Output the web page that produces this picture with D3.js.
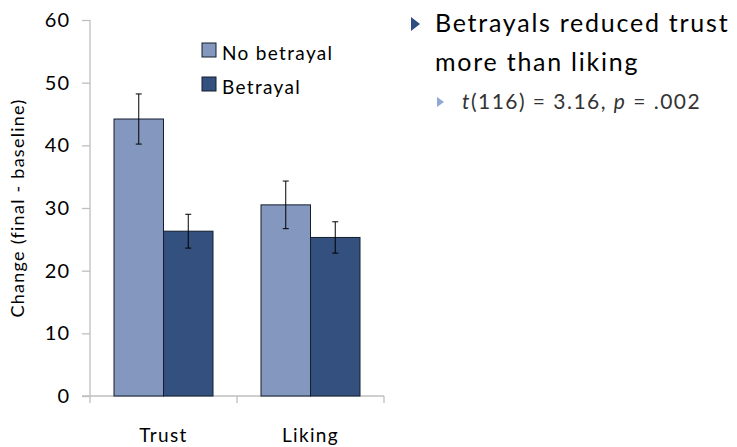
<!DOCTYPE html>
<html>
<head>
<meta charset="utf-8">
<script src="https://cdn.jsdelivr.net/npm/d3@7"></script>
<style>
  body { margin: 0; background: #fff; }
  text { font-family: "Lato", "Open Sans", sans-serif; letter-spacing: 0.07em; }
</style>
</head>
<body>
<svg id="chart" width="737" height="447"></svg>
<script>
// values
var categories = ["Trust", "Liking"],
    series = ["No betrayal", "Betrayal"],
    means = [[44.2, 26.3], [30.5, 25.3]],   // [category][series]
    errors = [[4.0, 2.7], [3.8, 2.5]],
    yTicks = [0, 10, 20, 30, 40, 50, 60],
    colors = ["#8497BF", "#33507E"];

var svg = d3.select("#chart"),
    marginLeft = 90, marginTop = 20, width = 294, height = 376,
    g = svg.append("g").attr("transform", "translate(" + marginLeft + "," + marginTop + ")");

var x = d3.scaleBand().domain(categories).range([0, width]).paddingInner(0).paddingOuter(0),
    inner = d3.scaleBand().domain(series).range([24, x.bandwidth() - 24]),
    y = d3.scaleLinear().domain([0, 60]).range([height, 0]);

// y axis
var yAxis = g.append("g")
    .call(d3.axisLeft(y).tickValues(yTicks).tickSize(8).tickPadding(12));
yAxis.selectAll("line, path").attr("stroke", "#BFBFBF").attr("stroke-width", 1.3);
yAxis.select(".domain").attr("d", "M0," + height + "V0");
yAxis.selectAll("text").attr("font-size", 20).attr("fill", "#000")
    .style("font-family", "Lato, sans-serif").style("letter-spacing", "0.05em");

// x axis
var xAxis = g.append("g").attr("transform", "translate(0," + height + ")");
xAxis.append("path").attr("d", "M-8,0H" + width).attr("stroke", "#BFBFBF").attr("stroke-width", 1.3);
xAxis.selectAll(".tk").data([0, x.bandwidth(), width]).enter().append("line")
    .attr("x1", d => d).attr("x2", d => d).attr("y1", 0).attr("y2", 7)
    .attr("stroke", "#BFBFBF").attr("stroke-width", 1.3);
xAxis.selectAll(".lbl").data(categories).enter().append("text")
    .attr("x", d => x(d) + x.bandwidth() / 2)
    .attr("y", 46)
    .attr("text-anchor", "middle")
    .attr("font-size", 19)
    .text(d => d);

// bars
var groups = g.selectAll(".grp").data(categories).enter().append("g")
    .attr("transform", d => "translate(" + x(d) + ",0)");

groups.each(function (cat, ci) {
    var sel = d3.select(this);
    series.forEach(function (s, si) {
        var v = means[ci][si], e = errors[ci][si],
            cx = inner(s) + inner.bandwidth() / 2;
        sel.append("rect")
            .attr("x", inner(s))
            .attr("y", y(v))
            .attr("width", inner.bandwidth())
            .attr("height", height - y(v))
            .attr("fill", colors[si])
            .attr("stroke", "#141E2E")
            .attr("stroke-width", 1);
        sel.append("line")
            .attr("x1", cx).attr("x2", cx)
            .attr("y1", y(v + e)).attr("y2", y(v - e))
            .attr("stroke", "#000").attr("stroke-width", 1);
        [v + e, v - e].forEach(function (w) {
            sel.append("line")
                .attr("x1", cx - 3).attr("x2", cx + 3)
                .attr("y1", y(w)).attr("y2", y(w))
                .attr("stroke", "#000").attr("stroke-width", 1);
        });
    });
});

// legend
var legend = svg.append("g").attr("transform", "translate(202,43)");
series.forEach(function (s, i) {
    legend.append("rect")
        .attr("x", 0).attr("y", i * 34)
        .attr("width", 14).attr("height", 14)
        .attr("fill", colors[i]).attr("stroke", "#141E2E").attr("stroke-width", 1);
    legend.append("text")
        .attr("x", 20).attr("y", i * 34 + 17)
        .attr("font-size", 19)
        .text(s);
});

// y label
svg.append("text")
    .attr("transform", "translate(24,208) rotate(-90)")
    .attr("text-anchor", "middle")
    .attr("font-size", 18)
    .text("Change (final - baseline)");

// bullet text
var note = svg.append("g");
note.append("path").attr("d", "M411,17L420,24L411,31Z").attr("fill", "#2E4F82");
note.append("text").attr("x", 435).attr("y", 32).attr("font-size", 25).text("Betrayals reduced trust");
note.append("text").attr("x", 435).attr("y", 71).attr("font-size", 25).text("more than liking");
note.append("path").attr("d", "M437,97L444,102L437,107Z").attr("fill", "#8FA8D6");
var stat = note.append("text").attr("x", 462).attr("y", 109).attr("font-size", 21).attr("fill", "#333");
stat.append("tspan").attr("font-style", "italic").text("t");
stat.append("tspan").text("(116) = 3.16, ");
stat.append("tspan").attr("font-style", "italic").text("p");
stat.append("tspan").text(" = .002");
</script>
</body>
</html>
